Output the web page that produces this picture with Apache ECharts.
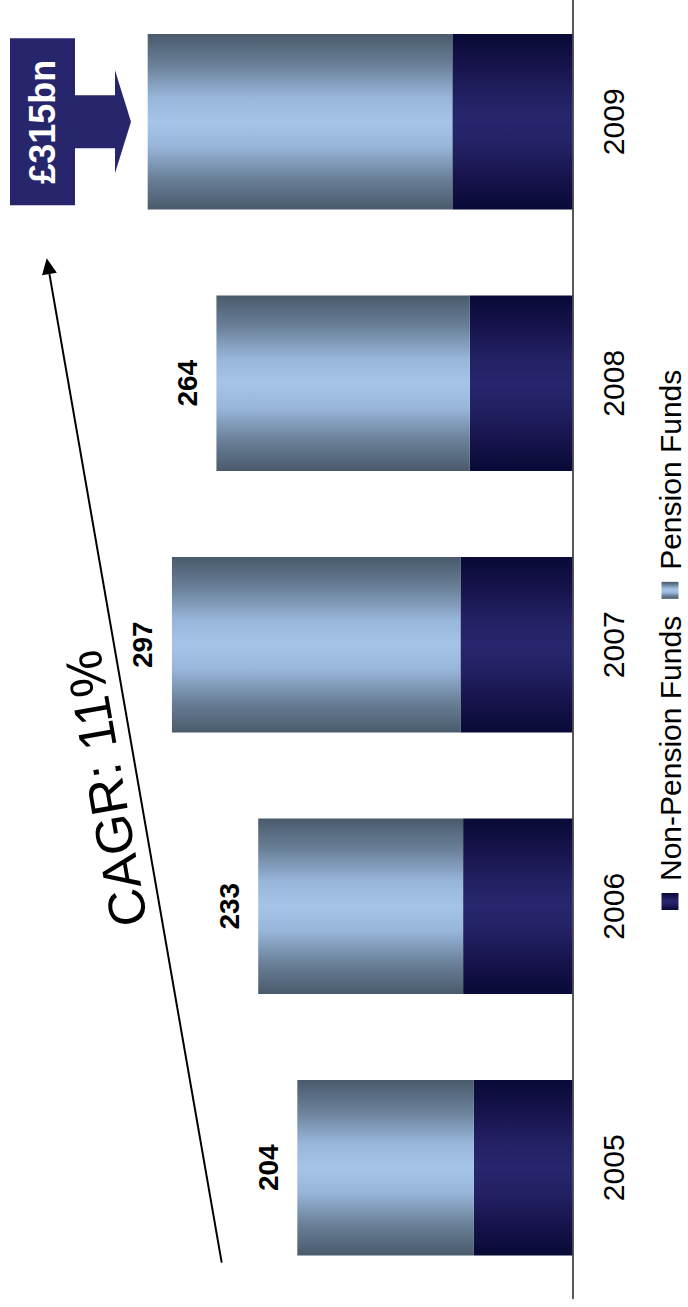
<!DOCTYPE html>
<html>
<head>
<meta charset="utf-8">
<title>UK assets under management 2005-2009</title>
<script src="https://cdn.jsdelivr.net/npm/echarts@6/dist/echarts.min.js"></script>
<style>
  html, body { margin: 0; padding: 0; background: #fff; width: 688px; height: 1307px; overflow: hidden; }
  /* The chart is laid out landscape and turned a quarter-turn anticlockwise onto the portrait page. */
  #chart {
    position: absolute; left: 0; top: 0;
    width: 1330px; height: 688px;
    transform-origin: 0 0;
    transform: translate(0, 1307px) rotate(-90deg);
  }
</style>
</head>
<body>
<div id="chart"></div>
<script>
// Assets by year, £bn
const years = ['2005', '2006', '2007', '2008', '2009'];
const nonPensionFunds = [73, 81, 83, 76, 89];
const pensionFunds = [131, 152, 214, 188, 226];
const totals = [204, 233, 297, 264, 315];

const FONT = "'Liberation Sans', Arial, Helvetica, sans-serif";

// Cylinder-like shading across each bar
const pensionFill = new echarts.graphic.LinearGradient(0, 0, 1, 0, [
  { offset: 0.00, color: '#4a5a6c' },
  { offset: 0.18, color: '#6a8199' },
  { offset: 0.36, color: '#98b6da' },
  { offset: 0.50, color: '#a5c4e8' },
  { offset: 0.64, color: '#98b6da' },
  { offset: 0.82, color: '#6a8199' },
  { offset: 1.00, color: '#4a5a6c' }
]);
const nonPensionFill = new echarts.graphic.LinearGradient(0, 0, 1, 0, [
  { offset: 0.00, color: '#080a36' },
  { offset: 0.18, color: '#17134c' },
  { offset: 0.36, color: '#232164' },
  { offset: 0.50, color: '#27266e' },
  { offset: 0.64, color: '#232164' },
  { offset: 0.82, color: '#17134c' },
  { offset: 1.00, color: '#080a36' }
]);

const chart = echarts.init(document.getElementById('chart'), null, { renderer: 'svg' });

chart.setOption({
  animation: false,
  backgroundColor: '#fff',
  textStyle: { fontFamily: FONT },
  grid: { left: 8.5, width: 1307.5, top: 33.1, height: 539.2, containLabel: false, outerBoundsMode: 'none' },
  legend: {
    data: ['Non-Pension Funds', 'Pension Funds'],
    left: 397, top: 655, padding: 0,
    icon: 'rect', itemWidth: 17, itemHeight: 17, itemGap: 17,
    textStyle: { fontSize: 30, color: '#000', fontFamily: FONT, padding: [0, 0, 0, 7] }
  },
  xAxis: {
    type: 'category',
    data: years,
    axisLine: { lineStyle: { color: '#222', width: 1.5 } },
    axisTick: { show: false },
    axisLabel: { fontSize: 30, color: '#000', margin: 26, fontFamily: FONT }
  },
  yAxis: { type: 'value', min: 0, max: 400, show: false, splitLine: { show: false } },
  series: [
    {
      name: 'Non-Pension Funds', type: 'bar', stack: 'assets', barWidth: 175.5,
      data: nonPensionFunds,
      itemStyle: { color: nonPensionFill }
    },
    {
      name: 'Pension Funds', type: 'bar', stack: 'assets', barWidth: 175.5,
      data: pensionFunds,
      itemStyle: { color: pensionFill },
      label: {
        show: true, position: 'top', distance: 15,
        fontSize: 28, fontWeight: 'bold', color: '#000', fontFamily: FONT,
        // the latest year carries its own callout instead
        formatter: p => (p.dataIndex === years.length - 1 ? '' : String(totals[p.dataIndex]))
      }
    }
  ]
});

// Callout for the latest total, centred on its bar
const last = years.length - 1;
const cx = chart.convertToPixel({ xAxisIndex: 0 }, years[last]);
const navy = '#27266c';

// Compound annual growth over the period
const cagr = Math.round((Math.pow(totals[last] / totals[0], 1 / last) - 1) * 100);

// Growth arrow
const start = [44.3, 221.7];
const tip = [1048.7, 46.7];
const dx = tip[0] - start[0], dy = tip[1] - start[1];
const len = Math.sqrt(dx * dx + dy * dy);
const ux = dx / len, uy = dy / len;
const headLen = 16, headHalf = 7.5;
const base = [tip[0] - ux * headLen, tip[1] - uy * headLen];

chart.setOption({
  graphic: [
    { type: 'rect', shape: { x: cx - 83.5, y: 10, width: 167, height: 65 }, style: { fill: navy } },
    { type: 'rect', shape: { x: cx - 26.5, y: 74, width: 53, height: 42 }, style: { fill: navy } },
    { type: 'polygon', shape: { points: [[cx - 51.5, 115], [cx + 51.5, 115], [cx, 131]] }, style: { fill: navy } },
    {
      type: 'text', x: cx, y: 42.5,
      style: { text: '£' + totals[last] + 'bn', fill: '#fff', font: 'bold 36px ' + FONT, textAlign: 'center', textVerticalAlign: 'middle' }
    },
    { type: 'line', shape: { x1: start[0], y1: start[1], x2: base[0], y2: base[1] }, style: { stroke: '#000', lineWidth: 2 } },
    {
      type: 'polygon',
      shape: { points: [tip, [base[0] - uy * headHalf, base[1] + ux * headHalf], [base[0] + uy * headHalf, base[1] - ux * headHalf]] },
      style: { fill: '#000' }
    },
    {
      type: 'text', x: 518.5, y: 106, rotation: Math.atan2(-dy, dx),
      style: { text: 'CAGR: ' + cagr + '%', fill: '#000', font: '52px ' + FONT, textAlign: 'center', textVerticalAlign: 'middle' }
    }
  ]
});
</script>
</body>
</html>
